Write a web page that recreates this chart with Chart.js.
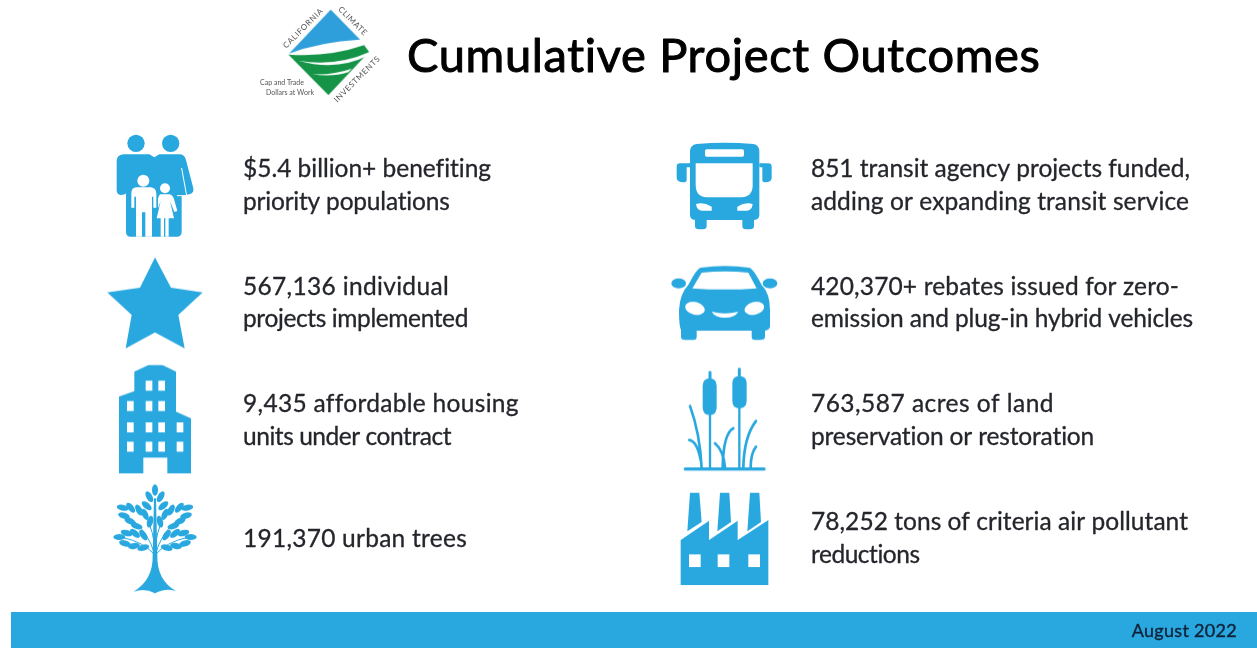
<!DOCTYPE html>
<html>
<head>
<meta charset="utf-8">
<title>Cumulative Project Outcomes</title>
<script src="https://cdn.jsdelivr.net/npm/chart.js@4/dist/chart.umd.min.js"></script>
<style>
    html, body { margin: 0; padding: 0; background: #fff; overflow: hidden; }
    #band { position: absolute; left: 11px; right: 0; top: 612px; height: 36px; background: #29a8e0; }
    #outcomes { position: absolute; left: 0; top: 0; }
</style>
</head>
<body>
<div id="band"></div>
<canvas id="outcomes" width="1257" height="648"></canvas>
<script>
const chartTitle = "Cumulative Project Outcomes";
const dateLabel = "August 2022";

// column 0 is the left list, column 1 the right one
const columns = [0, 0, 0, 0, 1, 1, 1, 1];
const rows = [0, 1, 2, 3, 0, 1, 2, 3];
const icons = ["family", "star", "building", "tree", "bus", "car", "reeds", "factory"];
const firstLines = [
    "$5.4 billion+ benefiting",
    "567,136 individual",
    "9,435 affordable housing",
    "191,370 urban trees",
    "851 transit agency projects funded,",
    "420,370+ rebates issued for zero-",
    "763,587 acres of land",
    "78,252 tons of criteria air pollutant"
];
const secondLines = [
    "priority populations",
    "projects implemented",
    "units under contract",
    "",
    "adding or expanding transit service",
    "emission and plug-in hybrid vehicles",
    "preservation or restoration",
    "reductions"
];

const BLUE = "#29a8e0";
const INK = "#24262b";
// the original face is wider or narrower per line, so each line is fitted to its measured width
const firstWidths = [248, 206, 275, 224, 379, 368, 243, 377];
const secondWidths = [207, 225, 208, 0, 378, 382, 284, 109];

// icons are traced in 3x crop coordinates, (ax, ay) lands on the data point
function makeIcon(ax, ay, draw, size) {
    size = size || 150;
    const c = document.createElement("canvas");
    c.width = size;
    c.height = size;
    const g = c.getContext("2d");
    g.translate(size / 2, size / 2);
    g.scale(1 / 3, 1 / 3);
    g.translate(-ax, -ay);
    g.lineCap = "round";
    draw(g);
    return c;
}
function fill(g, color, d) { g.fillStyle = color; g.fill(new Path2D(d)); }
function line(g, w, d) { g.strokeStyle = BLUE; g.lineWidth = w; g.stroke(new Path2D(d)); }
function dot(g, color, x, y, rx, ry, rot) {
    g.fillStyle = color;
    g.beginPath();
    g.ellipse(x, y, rx, ry === undefined ? rx : ry, (rot || 0) * Math.PI / 180, 0, Math.PI * 2);
    g.fill();
}
function boxes(g, xs, ys, w, h) {
    g.fillStyle = "#fff";
    ys.forEach(y => xs.forEach(x => g.fillRect(x, y, w, h)));
}

const drawers = {
    family: g => {
        dot(g, BLUE, 138, 55, 26);
        dot(g, BLUE, 242, 55, 26);
        fill(g, BLUE, "M100,88 H178 L193,97 L208,88 H268 Q284,88 288,105 L310,190 Q312,205 298,208 L275,212 V320 Q275,335 260,335 H122 Q108,335 108,320 V205 Q105,210 92,210 Q80,208 80,195 V108 Q80,90 100,88 Z");
        g.strokeStyle = "#fff";
        g.lineWidth = 3;
        g.stroke(new Path2D("M275,130 L290,212 H262"));
        dot(g, "#fff", 160, 167, 18);
        dot(g, "#fff", 225, 190, 15);
        fill(g, "#fff", "M138,187 H183 Q198,189 199,205 V248 H190 V215 H186 V335 H166 V262 H156 V335 H138 V215 H133 V248 H124 V205 Q124,189 138,187 Z");
        fill(g, "#fff", "M212,208 H238 Q248,210 252,222 L262,258 L253,261 L240,228 L252,280 H236 V335 H226 V280 H222 V335 H212 V280 H200 L212,228 L204,250 V222 Q206,210 212,208 Z");
    },
    star: g => fill(g, BLUE, "M195,397 L243,488 L338,502 L265,570 L284,670 L195,622 L107,670 L125,570 L52,502 L150,488 Z"),
    building: g => {
        fill(g, BLUE, "M133,50 L175,30 H218 L258,50 V170 L303,190 V355 H232 V308 H160 V355 H87 V125 L133,108 Z");
        boxes(g, [167, 205], [77], 20, 30);
        boxes(g, [111, 167, 205], [138], 20, 30);
        boxes(g, [111, 167, 205, 260], [202, 260], 20, 30);
    },
    tree: g => {
        fill(g, BLUE, "M192,430 L198,430 L202,600 Q200,675 258,708 Q225,698 195,715 Q165,698 130,710 Q190,675 188,600 Z");
        g.strokeStyle = BLUE;
        g.lineWidth = 3;
        g.stroke(new Path2D("M195,600 Q175,530 125,492 M195,600 Q215,530 265,492 M195,600 Q160,560 100,548 M195,600 Q230,560 290,548 M195,590 Q190,520 172,500 M195,590 Q200,520 218,500"));
        dot(g, BLUE, 195, 405, 17, 9, 90);
        const leaves = [
            [178, 425, 60], [170, 452, 40], [98, 458, 12], [122, 458, 50], [147, 465, 62],
            [102, 482, 15], [120, 498, 25], [140, 513, 18], [165, 478, 65], [180, 500, 105],
            [88, 546, 0], [110, 534, 15], [135, 535, 40], [160, 540, 55],
            [105, 565, 15], [132, 573, -10], [160, 578, -15]
        ];
        leaves.forEach(l => {
            dot(g, BLUE, l[0], l[1], 18, 9, l[2]);
            dot(g, BLUE, 390 - l[0], l[1], 18, 9, -l[2]);
        });
    },
    bus: g => {
        fill(g, BLUE, "M110,42 Q195,35 280,42 Q298,45 298,65 V255 Q298,268 282,270 V288 Q282,298 270,298 H258 Q247,298 247,288 V270 H140 V288 Q140,298 128,298 H116 Q105,298 105,288 V270 Q90,268 90,255 V65 Q90,45 110,42 Z");
        fill(g, BLUE, "M90,100 H60 Q50,100 50,110 V145 Q52,157 70,157 Q80,157 80,150 V112 H90 Z");
        fill(g, BLUE, "M298,100 H325 Q335,100 335,110 V145 Q333,157 317,157 Q307,157 307,150 V112 H298 Z");
        fill(g, "#fff", "M107,100 H278 V165 Q278,200 245,202 H140 Q107,200 107,165 Z");
        fill(g, "#fff", "M140,58 H247 Q252,58 252,63 V75 Q252,80 247,80 H140 Q135,80 135,75 V63 Q135,58 140,58 Z");
        fill(g, "#fff", "M108,222 Q130,215 155,230 V242 H125 Q110,240 108,222 Z");
        fill(g, "#fff", "M278,222 Q256,215 232,230 V242 H262 Q276,240 278,222 Z");
    },
    car: g => {
        dot(g, BLUE, 56, 460, 22, 15);
        dot(g, BLUE, 330, 460, 22, 15);
        fill(g, BLUE, "M122,413 Q195,402 268,413 Q280,416 305,465 Q330,490 330,540 V590 Q328,600 315,602 V620 Q315,630 300,630 H285 Q275,630 275,620 V602 H110 V620 Q110,630 100,630 H75 Q63,630 63,620 V600 Q57,590 57,540 Q60,490 85,465 Q110,416 122,413 Z");
        fill(g, "#fff", "M125,428 Q195,420 265,428 L290,475 Q195,482 97,475 Z");
        dot(g, "#fff", 105, 535, 30, 19, 15);
        dot(g, "#fff", 283, 535, 30, 19, -15);
        fill(g, "#fff", "M155,545 Q195,555 235,545 Q225,563 195,563 Q165,563 155,545 Z");
    },
    reeds: g => {
        line(g, 10, "M76,327 H312");
        line(g, 7, "M150,160 V327 M238,140 V327");
        line(g, 9, "M150,37 V60 M238,27 V50");
        fill(g, BLUE, "M128,78 Q128,55 149,55 Q170,55 170,78 V142 Q170,165 149,165 Q128,165 128,142 Z");
        fill(g, BLUE, "M217,70 Q217,48 238,48 Q260,48 260,70 V122 Q260,145 238,145 Q217,145 217,122 Z");
        line(g, 8, "M90,138 Q120,220 125,325 M88,240 Q112,245 122,300 M220,205 Q190,220 188,322 M165,250 Q190,270 195,322 M288,183 Q252,230 250,322 M288,260 Q272,280 272,322");
    },
    factory: g => {
        fill(g, BLUE, "M62,540 L147,482 V540 L233,482 V540 L325,480 V675 H62 Z");
        fill(g, BLUE, "M90,398 H118 L125,486 L82,514 Z M180,398 H208 L213,486 L172,514 Z M270,398 H298 L303,486 L262,514 Z");
        boxes(g, [87, 173, 265], [583], 35, 38);
    }
};

const iconAnchors = {
    family: [195, 183], star: [195, 536], building: [195, 199], tree: [195, 552],
    bus: [195, 168], car: [195, 521], reeds: [195, 184], factory: [195, 537]
};
const pointIcons = icons.map(n => makeIcon(iconAnchors[n][0], iconAnchors[n][1], drawers[n]));

const logo = makeIcon(275, 155, g => {
    fill(g, "#2f9fdc", "M272,28 L360,118 Q240,125 147,160 Z");
    fill(g, "#159447", "M145,163 Q265,172 372,135 L387,155 L265,285 Z");
    fill(g, "#fff", "M175,182 Q290,200 387,156 L380,168 Q290,213 175,182 Z");
    fill(g, "#fff", "M215,222 Q280,225 335,205 L325,216 Q275,232 215,222 Z");
}, 200);

const stepX = 570, stepY = 117.67;

const textPlugin = {
    id: "outcomeText",
    afterDatasetsDraw(chart) {
        const g = chart.ctx;
        const x = chart.scales.x, y = chart.scales.y;
        g.save();
        g.textAlign = "left";
        g.textBaseline = "alphabetic";
        g.lineJoin = "round";
        g.fillStyle = "#000";
        g.strokeStyle = "#000";
        g.font = "47px Lato";
        g.letterSpacing = "0.67px";
        g.lineWidth = 1;
        g.fillText(chartTitle, 407, 72);
        g.strokeText(chartTitle, 407, 72);

        g.fillStyle = INK;
        g.strokeStyle = INK;
        g.font = "24.5px Lato";
        g.lineWidth = 0.3;
        const put = (t, px, py) => { g.fillText(t, px, py); g.strokeText(t, px, py); };
        const fitted = (t, w, px, py) => {
            g.letterSpacing = "0px";
            g.letterSpacing = ((w - g.measureText(t).width) / t.length) + "px";
            put(t, px, py);
        };
        firstLines.forEach((t, i) => {
            const px = x.getPixelForValue(columns[i]) + (columns[i] ? 86 : 88);
            const py = y.getPixelForValue(rows[i]);
            if (secondLines[i]) {
                fitted(t, firstWidths[i], px, py - 9);
                fitted(secondLines[i], secondWidths[i], px, py + 23.5);
            } else {
                fitted(t, firstWidths[i], px, py + 8);
            }
        });

        g.fillStyle = "#10233a";
        g.strokeStyle = "#10233a";
        g.font = "18px Lato";
        g.letterSpacing = "0.3px";
        g.lineWidth = 0.4;
        g.textAlign = "right";
        put(dateLabel, 1237, 637);

        // logo captions
        g.letterSpacing = "0px";
        g.textAlign = "center";
        g.fillStyle = "#555";
        g.font = "7px Lato";
        g.fillText("Cap and Trade", 282, 85);
        g.fillText("Dollars at Work", 290, 95);
        const side = (t, cx, cy, deg) => {
            g.save();
            g.translate(cx, cy);
            g.rotate(deg * Math.PI / 180);
            g.fillText(t, 0, 0);
            g.restore();
        };
        g.font = "8px Lato";
        g.letterSpacing = "0.6px";
        side("CALIFORNIA", 305, 30, -45);
        side("CLIMATE", 351, 23, 45);
        side("INVESTMENTS", 359, 81, -45);
        g.restore();
    }
};

new Chart(document.getElementById("outcomes"), {
    type: "scatter",
    data: {
        datasets: [
            {
                data: columns.map((c, i) => ({ x: c, y: rows[i] })),
                pointStyle: pointIcons,
                pointRadius: 20
            },
            {
                // logo sits beside the title, above the first row
                data: [{ x: 0.31, y: -1.14 }],
                pointStyle: logo,
                pointRadius: 20
            }
        ]
    },
    options: {
        responsive: false,
        animation: false,
        layout: { padding: 0, autoPadding: false },
        plugins: {
            legend: { display: false },
            tooltip: { enabled: false }
        },
        scales: {
            x: { display: false, min: -155 / stepX, max: (1257 - 155) / stepX },
            y: { display: false, reverse: true, min: -186 / stepY, max: (648 - 186) / stepY }
        }
    },
    plugins: [textPlugin]
});
</script>
</body>
</html>
